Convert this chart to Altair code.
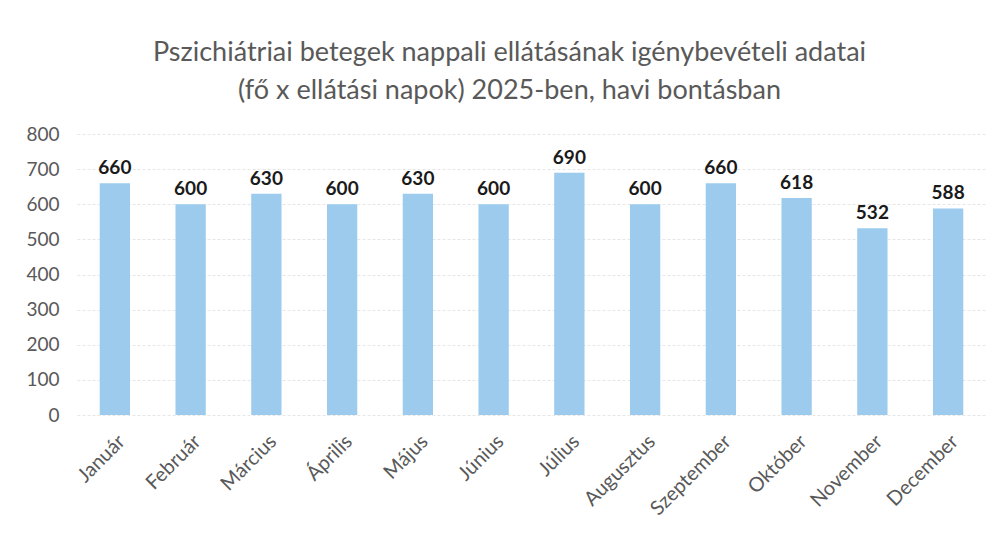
import altair as alt
import pandas as pd

months = ["Január", "Február", "Március", "Április", "Május", "Június",
          "Július", "Augusztus", "Szeptember", "Október", "November", "December"]
values = [660, 600, 630, 600, 630, 600, 690, 600, 660, 618, 532, 588]

df = pd.DataFrame({"honap": months, "ertek": values})

FONT = "Lato"
GRAY = "#595959"

x = alt.X("honap:N", sort=months, title=None,
          scale=alt.Scale(paddingInner=0.6, paddingOuter=0.3),
          axis=alt.Axis(labelAngle=-45, labelFontSize=20, labelColor=GRAY,
                        labelFont=FONT, domain=False, ticks=False, labelPadding=16))
y = alt.Y("ertek:Q", title=None,
          scale=alt.Scale(domain=[0, 800]),
          axis=alt.Axis(values=list(range(0, 801, 100)), labelFontSize=19,
                        labelColor=GRAY, labelFont=FONT, domain=False, ticks=False,
                        labelOverlap=False, labelPadding=18, grid=True,
                        gridColor="#e6e6e6", gridDash=[3, 2], gridWidth=1))

base = alt.Chart(df).encode(x=x, y=y)
bars = base.mark_bar(color="#9ccbee")
labels = base.mark_text(dy=-15, fontSize=19, fontWeight="bold",
                        font=FONT, color="#1a1a1a").encode(text="ertek:Q")

chart = (bars + labels).properties(
    width=909, height=281,
    background="white",
    autosize=alt.AutoSizeParams(type="none"),
    padding={"left": 77, "top": 134, "right": 12, "bottom": 120},
    title=alt.TitleParams(
        ["Pszichiátriai betegek nappali ellátásának  igénybevételi adatai",
         "(fő x ellátási napok) 2025-ben, havi bontásban"],
        font=FONT, fontSize=27, fontWeight="normal", color=GRAY,
        lineHeight=38, anchor="middle", dx=-22, offset=20),
).configure_view(strokeWidth=0)

chart.save("out.html", embed_options={"renderer": "svg", "actions": False})
